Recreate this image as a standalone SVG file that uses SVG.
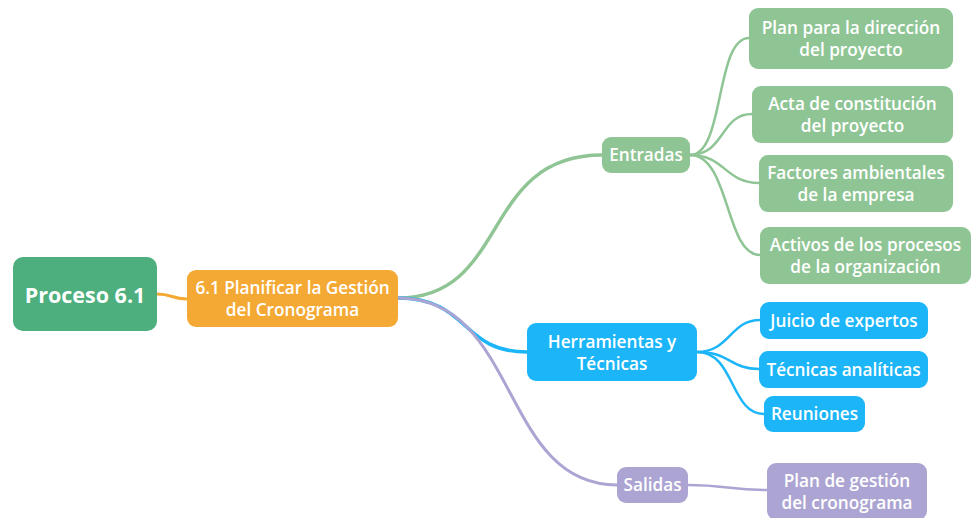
<svg xmlns="http://www.w3.org/2000/svg" width="971" height="518" viewBox="0 0 971 518">
<style>
text{font-family:"Open Sans","Noto Sans",sans-serif;font-weight:600;fill:#fff;text-anchor:middle;font-size:17.2px}
.c{fill:none;stroke-linecap:round}
.g{fill:#8FC595}.b{fill:#1BB5F8}.p{fill:#ACA4D2}
</style>
<rect width="971" height="518" fill="#fff"/>
<g id="connectors">
<path class="c" d="M157,294 C172,294 172,299 187,299" stroke="#F4A934" stroke-width="3"/>
<path class="c" d="M398,298 C510,298 480,155 602,155" stroke="#8FC595" stroke-width="3.5"/>
<path class="c" d="M398,298 C470,298 460,352 527,352" stroke="#1BB5F8" stroke-width="3.5"/>
<path class="c" d="M398,298 C520,298 500,485 617,485" stroke="#ACA4D2" stroke-width="3"/>
<path class="c" d="M690,155 C725,155 715,38 749,38" stroke="#8FC595" stroke-width="2.5"/>
<path class="c" d="M690,155 C725,155 720,114 752,114" stroke="#8FC595" stroke-width="2.5"/>
<path class="c" d="M690,155 C725,155 725,183 759,183" stroke="#8FC595" stroke-width="2.5"/>
<path class="c" d="M690,155 C730,155 725,255 760,255" stroke="#8FC595" stroke-width="2.5"/>
<path class="c" d="M697,352 C730,352 730,320 760,320" stroke="#1BB5F8" stroke-width="2.5"/>
<path class="c" d="M697,352 C730,352 730,369 759,369" stroke="#1BB5F8" stroke-width="2.5"/>
<path class="c" d="M697,352 C735,352 730,414 764,414" stroke="#1BB5F8" stroke-width="2.5"/>
<path class="c" d="M688,485 C725,485 730,490 767,490" stroke="#ACA4D2" stroke-width="2.5"/>
</g>
<g id="proceso"><rect x="13" y="257" width="144" height="74" rx="10" fill="#4CAF7D"/><text x="85" y="303" style="font-size:21.5px;font-weight:700">Proceso 6.1</text></g>
<g id="planificar"><rect x="187" y="270" width="211" height="57" rx="9" fill="#F4A934"/><text x="292.5" y="294">6.1 Planificar la Gestión</text><text x="292.5" y="316">del Cronograma</text></g>
<g id="entradas"><rect class="g" x="602" y="137" width="88" height="36" rx="9"/><text x="646" y="161">Entradas</text></g>
<g id="plan-direccion"><rect class="g" x="749" y="8" width="204" height="61" rx="9"/><text x="851" y="34">Plan para la dirección</text><text x="851" y="56">del proyecto</text></g>
<g id="acta"><rect class="g" x="752" y="86" width="201" height="57" rx="9"/><text x="852.5" y="110">Acta de constitución</text><text x="852.5" y="132">del proyecto</text></g>
<g id="factores"><rect class="g" x="759" y="155" width="194" height="57" rx="9"/><text x="856" y="179">Factores ambientales</text><text x="856" y="201">de la empresa</text></g>
<g id="activos"><rect class="g" x="760" y="227" width="211" height="57" rx="9"/><text x="865.5" y="251">Activos de los procesos</text><text x="865.5" y="273">de la organización</text></g>
<g id="herramientas"><rect class="b" x="527" y="323" width="170" height="58" rx="9"/><text x="612" y="348">Herramientas y</text><text x="612" y="370">Técnicas</text></g>
<g id="juicio"><rect class="b" x="760" y="302" width="168" height="37" rx="9"/><text x="844" y="327">Juicio de expertos</text></g>
<g id="tecnicas"><rect class="b" x="759" y="351" width="169" height="37" rx="9"/><text x="843.5" y="376">Técnicas analíticas</text></g>
<g id="reuniones"><rect class="b" x="764" y="396" width="101" height="36" rx="9"/><text x="814.5" y="420">Reuniones</text></g>
<g id="salidas"><rect class="p" x="617" y="467" width="71" height="36" rx="9"/><text x="652.5" y="491">Salidas</text></g>
<g id="plan-gestion"><rect class="p" x="767" y="463" width="160" height="57" rx="9"/><text x="847" y="487">Plan de gestión</text><text x="847" y="509">del cronograma</text></g>
</svg>
